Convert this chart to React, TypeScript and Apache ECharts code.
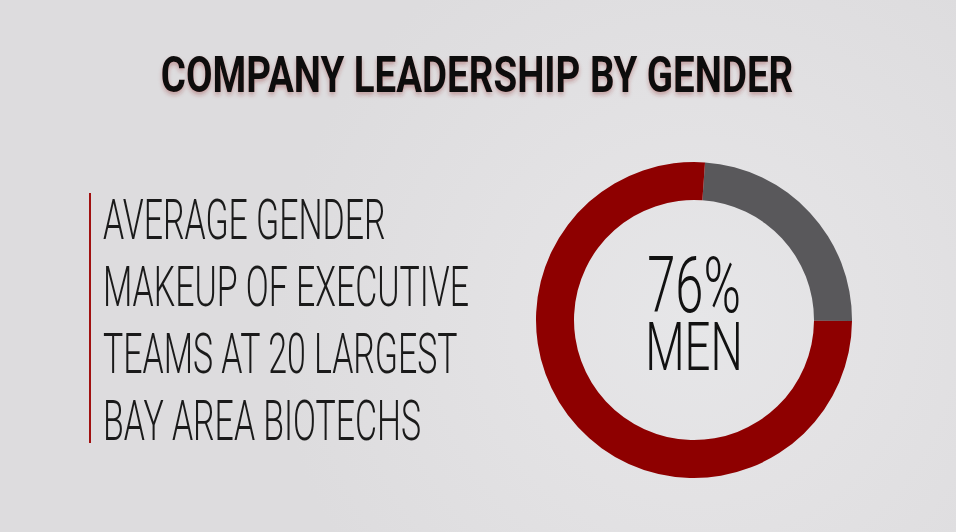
import React, { useEffect, useRef } from "react";
import * as echarts from "echarts";

const title = "COMPANY LEADERSHIP BY GENDER";
const descriptionLines = [
  "AVERAGE GENDER",
  "MAKEUP OF EXECUTIVE",
  "TEAMS AT 20 LARGEST",
  "BAY AREA BIOTECHS",
];
const categories = ["Women", "Men"];
const shares = [24, 76];
const sliceColors = ["#59585b", "#8e0000"];
const centerLines = ["76%", "MEN"];

export default function App() {
  const ref = useRef<HTMLDivElement>(null);
  useEffect(() => {
    if (!ref.current) return;
    const chart = echarts.init(ref.current, undefined, { renderer: "svg" });
    const thin = "Roboto";
    chart.setOption({
      animation: false,
      series: [
        {
          type: "pie",
          radius: [120, 158],
          center: [694, 320],
          startAngle: 86,
          clockwise: true,
          silent: true,
          label: { show: false },
          labelLine: { show: false },
          data: categories.map((c, i) => ({
            name: c,
            value: shares[i],
            itemStyle: { color: sliceColors[i] },
          })),
        },
      ],
      graphic: [
        {
          type: "text",
          x: 477,
          y: 75,
          scaleX: 0.77,
          style: {
            text: title,
            font: "bold 50px Roboto",
            fill: "#111",
            align: "center",
            verticalAlign: "middle",
            textShadowColor: "rgba(140,40,40,0.35)",
            textShadowBlur: 4,
            textShadowOffsetY: 3,
          },
        },
        {
          type: "rect",
          shape: { x: 89, y: 193, width: 2, height: 250 },
          style: { fill: "#a01010" },
        },
        ...descriptionLines.map((t, i) => ({
          type: "text",
          x: 103,
          y: 220 + i * 67,
          scaleX: 0.605,
          style: {
            text: t,
            font: `300 56px ${thin}`,
            fill: "#1a1a1a",
            align: "left",
            verticalAlign: "middle",
          },
        })),
        {
          type: "text",
          x: 694,
          y: 285,
          scaleX: 0.65,
          style: {
            text: centerLines[0],
            font: `300 78px ${thin}`,
            fill: "#111",
            align: "center",
            verticalAlign: "middle",
          },
        },
        {
          type: "text",
          x: 694,
          y: 347,
          scaleX: 0.69,
          style: {
            text: centerLines[1],
            font: `300 66px ${thin}`,
            fill: "#111",
            align: "center",
            verticalAlign: "middle",
          },
        },
      ],
    });
    return () => chart.dispose();
  }, []);
  return (
    <div
      ref={ref}
      style={{
        position: "fixed",
        left: 0,
        top: 0,
        width: 956,
        height: 532,
        background:
          "radial-gradient(circle at 694px 320px, #e6e6e8 0px, #e3e2e4 180px, #dddcde 420px)",
      }}
    />
  );
}
